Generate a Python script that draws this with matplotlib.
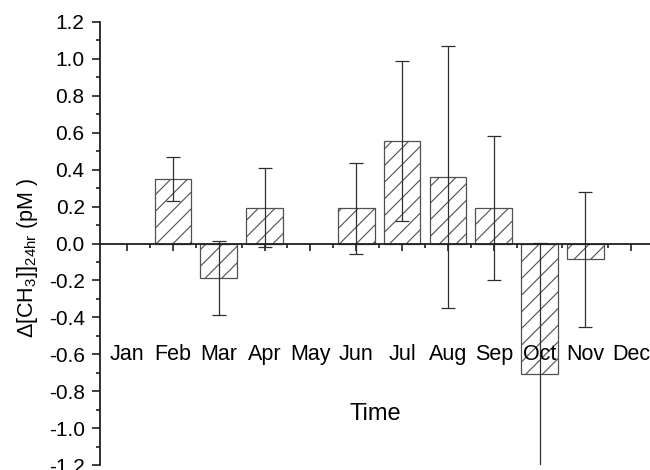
import matplotlib
matplotlib.use("Agg")
import matplotlib.pyplot as plt
from matplotlib.ticker import MultipleLocator

plt.rcParams['font.family'] = ['Liberation Sans', 'DejaVu Sans']
plt.rcParams['mathtext.default'] = 'regular'
plt.rcParams['hatch.color'] = '#404040'
plt.rcParams['hatch.linewidth'] = 0.8

months = ['Jan', 'Feb', 'Mar', 'Apr', 'May', 'Jun',
          'Jul', 'Aug', 'Sep', 'Oct', 'Nov', 'Dec']
month_pos = list(range(1, 13))

# months that have a measurement
bar_pos = [2, 3, 4, 6, 7, 8, 9, 10, 11]
bar_vals = [0.35, -0.185, 0.195, 0.19, 0.556, 0.359, 0.19, -0.708, -0.085]
bar_err = [0.12, 0.20, 0.215, 0.245, 0.435, 0.71, 0.39, 0.71, 0.365]

fig = plt.figure(figsize=(6.5, 4.7), dpi=100)
ax = fig.add_axes([0.1538, 0.0106, 0.8462, 0.9426])

ax.bar(bar_pos, bar_vals, width=0.8, color='white', edgecolor='#505050',
       linewidth=0.9, hatch='//', zorder=2)
ax.errorbar(bar_pos, bar_vals, yerr=bar_err, fmt='none', ecolor='#303030',
            elinewidth=0.9, capsize=5, capthick=0.9, zorder=3)

ax.set_xlim(0.41, 12.41)
ax.set_ylim(-1.2, 1.2)

ax.spines['top'].set_visible(False)
ax.spines['right'].set_visible(False)
ax.spines['bottom'].set_position(('data', 0))
for s in ['left', 'bottom']:
    ax.spines[s].set_linewidth(1.3)
    ax.spines[s].set_color('#202020')
    ax.spines[s].set_zorder(4)

ax.yaxis.set_minor_locator(MultipleLocator(0.1))
ax.set_yticks([i / 10 for i in range(-12, 13, 2)])
ax.set_yticklabels(['%.1f' % (i / 10) for i in range(-12, 13, 2)])
ax.tick_params(axis='y', which='major', direction='out', length=6, width=1.2,
               color='#202020', labelsize=15, pad=5)
ax.tick_params(axis='y', which='minor', direction='out', length=3, width=1.2,
               color='#202020')

ax.set_xticks(month_pos)
ax.set_xticks([p + 0.5 for p in month_pos[:-1]], minor=True)
ax.set_xticklabels([])
ax.tick_params(axis='x', which='major', direction='out', length=5, width=1.2,
               color='#202020')
ax.tick_params(axis='x', which='minor', direction='out', length=3, width=1.2,
               color='#202020')

for p, m in zip(month_pos, months):
    ax.text(p, -0.6, m, ha='center', va='center', fontsize=15.5)

ax.text(0.5, 0.115, 'Time', transform=ax.transAxes, ha='center',
        va='center', fontsize=17)

fig.text(0.043, 0.451, r'$\Delta$[CH$_3$]]$_{24hr}$ (pM )', rotation=90,
         ha='center', va='center', fontsize=15.5)

fig.savefig('out.png', dpi=100)
